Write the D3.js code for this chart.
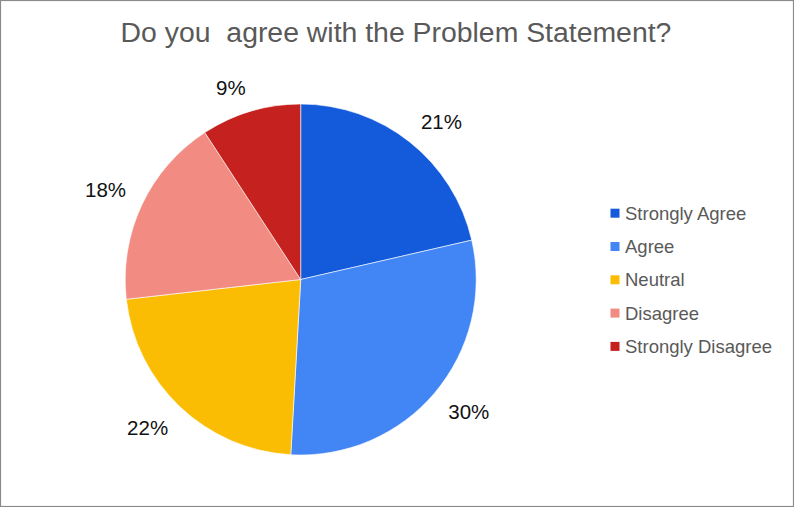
<!DOCTYPE html>
<html>
<head>
<meta charset="utf-8">
<script src="https://cdn.jsdelivr.net/npm/d3@7"></script>
<style>
  html, body { margin: 0; padding: 0; background: #fff; }
  svg { display: block; font-family: "Liberation Sans", Arial, sans-serif; }
</style>
</head>
<body>
<div id="chart"></div>
<script>
// survey answers (slice angles give the decimals)
const categories = ['Strongly Agree', 'Agree', 'Neutral', 'Disagree', 'Strongly Disagree'];
const shares = [21.4, 29.5, 22.3, 17.6, 9.2];
const sliceColors = ['#135bda', '#4285f4', '#fbbc04', '#f28b82', '#c5221f'];
const title = 'Do you  agree with the Problem Statement?';

const width = 794, height = 507;
const cx = 300.7, cy = 279.5, radius = 175.5;

const svg = d3.select('#chart')
    .append('svg')
    .attr('width', width)
    .attr('height', height);

// outer frame
svg.append('rect')
    .attr('x', 0.5).attr('y', 0.5)
    .attr('width', width - 1).attr('height', height - 1)
    .attr('fill', '#fff')
    .attr('stroke', '#8a8a8a')
    .attr('stroke-width', 1.2);

svg.append('text')
    .attr('x', 396)
    .attr('y', 42.3)
    .attr('text-anchor', 'middle')
    .attr('fill', '#595959')
    .style('font-size', '28.4px')
    .style('white-space', 'pre')
    .text(title);

const color = d3.scaleOrdinal().domain(categories).range(sliceColors);

const pie = d3.pie()
    .sort(null)
    .value((d, i) => shares[i]);

const arcs = pie(categories);
const arc = d3.arc().innerRadius(0).outerRadius(radius);

const g = svg.append('g')
    .attr('transform', `translate(${cx},${cy})`);

g.selectAll('path')
    .data(arcs)
    .join('path')
    .attr('d', arc)
    .attr('fill', d => color(d.data))
    .attr('stroke', '#fff')
    .attr('stroke-width', 0.6);

// percent labels: the label corner nearest the pie sits on the mid-angle ray
const labelSize = 20.5;
const gap = 17.5;
const total = d3.sum(shares);
const labels = g.selectAll('text.pct')
    .data(arcs)
    .join('text')
    .attr('class', 'pct')
    .attr('text-anchor', 'middle')
    .attr('fill', '#111')
    .style('font-size', labelSize + 'px')
    .text(d => Math.round(d.value / total * 100) + '%');

labels.each(function (d) {
    const w = this.getComputedTextLength();
    const h = labelSize * 0.72;
    const mid = (d.startAngle + d.endAngle) / 2;
    const ux = Math.sin(mid), uy = -Math.cos(mid);
    const reach = radius + gap;
    const x = ux * reach + Math.sign(ux) * w / 2;
    const y = uy * reach + Math.sign(uy) * h / 2;
    d3.select(this)
        .attr('x', x)
        .attr('y', y + h / 2);
});

// legend
const legendY = d3.scalePoint()
    .domain(categories)
    .range([213.3, 346.5]);

const legend = svg.append('g');
const rows = legend.selectAll('g')
    .data(categories)
    .join('g')
    .attr('transform', d => `translate(610.5,${legendY(d)})`);

rows.append('rect')
    .attr('x', 0).attr('y', -4.6)
    .attr('width', 9).attr('height', 9)
    .attr('fill', d => color(d));

rows.append('text')
    .attr('x', 14.5)
    .attr('y', 6.4)
    .attr('fill', '#595959')
    .style('font-size', '18.5px')
    .text(d => d);
</script>
</body>
</html>
